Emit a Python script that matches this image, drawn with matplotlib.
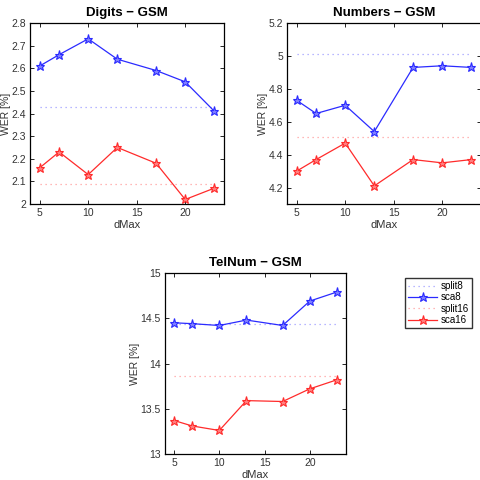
import matplotlib
matplotlib.use("Agg")
import matplotlib.pyplot as plt
from matplotlib.ticker import FuncFormatter

plt.rcParams['font.family'] = ['Liberation Sans', 'DejaVu Sans']

dmax = [5, 7, 10, 13, 17, 20, 23]

digits_sca8 = [2.61, 2.66, 2.73, 2.64, 2.59, 2.54, 2.41]
digits_sca16 = [2.16, 2.23, 2.13, 2.25, 2.18, 2.02, 2.07]
digits_split8 = 2.43
digits_split16 = 2.09

numbers_sca8 = [4.73, 4.65, 4.70, 4.54, 4.93, 4.94, 4.93]
numbers_sca16 = [4.30, 4.37, 4.47, 4.21, 4.37, 4.35, 4.37]
numbers_split8 = 5.01
numbers_split16 = 4.51

telnum_sca8 = [14.45, 14.44, 14.42, 14.48, 14.42, 14.69, 14.79]
telnum_sca16 = [13.37, 13.31, 13.26, 13.59, 13.58, 13.72, 13.82]
telnum_split8 = 14.44
telnum_split16 = 13.86

titles = ["Digits \u2212 GSM", "Numbers \u2212 GSM", "TelNum \u2212 GSM"]
yticks_list = [[2, 2.1, 2.2, 2.3, 2.4, 2.5, 2.6, 2.7, 2.8],
               [4.2, 4.4, 4.6, 4.8, 5, 5.2],
               [13, 13.5, 14, 14.5, 15]]
ylims = [(2, 2.8), (4.1, 5.2), (13, 15)]
xticks = [5, 10, 15, 20]

BLUE = '#2b2bff'
RED = '#ff2b2b'
TXT = '#333333'

fig = plt.figure(figsize=(4.8, 4.8), dpi=100)
positions = [[30/480, 1-204/480, 194/480, 181/480],
             [287/480, 1-204/480, 194/480, 181/480],
             [165/480, 1-454/480, 181/480, 181/480]]

data = [(digits_sca8, digits_sca16, digits_split8, digits_split16),
        (numbers_sca8, numbers_sca16, numbers_split8, numbers_split16),
        (telnum_sca8, telnum_sca16, telnum_split8, telnum_split16)]

fmt = FuncFormatter(lambda v, p: ('%g' % round(v, 3)))

for i, (pos, (s8, s16, sp8, sp16)) in enumerate(zip(positions, data)):
    ax = fig.add_axes(pos)
    l1, = ax.plot(dmax, [sp8]*len(dmax), linestyle=(0, (1, 3)), color='#a0a0ff', lw=0.9, label='split8')
    l2, = ax.plot(dmax, s8, color=BLUE, lw=0.9, marker='*', ms=6.5, mfc='#8080ff', mec=BLUE, mew=0.8, label='sca8')
    l3, = ax.plot(dmax, [sp16]*len(dmax), linestyle=(0, (1, 3)), color='#ffa0a0', lw=0.9, label='split16')
    l4, = ax.plot(dmax, s16, color=RED, lw=0.9, marker='*', ms=6.5, mfc='#ff8080', mec=RED, mew=0.8, label='sca16')
    ax.set_xlim(4, 24)
    ax.set_ylim(*ylims[i])
    ax.set_xticks(xticks)
    ax.set_yticks(yticks_list[i])
    ax.yaxis.set_major_formatter(fmt)
    ax.tick_params(direction='in', top=True, right=True, length=3, width=0.6,
                   labelsize=7.5, labelcolor=TXT, pad=3)
    for sp in ax.spines.values():
        sp.set_linewidth(0.9)
        sp.set_color('black')
    ax.set_xlabel('dMax', fontsize=8, color=TXT, labelpad=1)
    ax.set_ylabel('WER [%]', fontsize=7.5, color=TXT, labelpad=0.5)
    ax.set_title(titles[i], fontsize=9.5, fontweight='bold', pad=5)

fig.legend(handles=[l1, l2, l3, l4], loc='upper left', bbox_to_anchor=(405/480, 1-278/480),
           fontsize=7, frameon=True, fancybox=False, edgecolor='black',
           handlelength=3, borderpad=0.3, labelspacing=0.15, handletextpad=0.4,
           borderaxespad=0)

fig.savefig('out.png', dpi=100)
